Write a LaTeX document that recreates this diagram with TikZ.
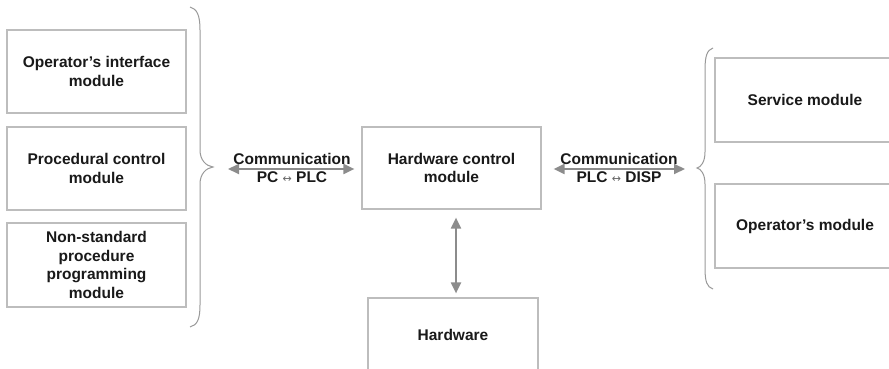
\documentclass[tikz,border=0pt]{standalone}
\usepackage{fontspec}
\setmainfont{Liberation Sans}
\newfontfamily\symfont{DejaVu Sans}
\usetikzlibrary{arrows.meta}
\definecolor{boxgray}{HTML}{BDBDBD}
\definecolor{arrgray}{HTML}{8C8C8C}
\definecolor{bracegray}{HTML}{999999}
\tikzset{
  modbox/.style={draw=boxgray, line width=1.2pt, fill=white, align=center,
    font=\fontsize{15.5}{18.5}\selectfont\bfseries, text=black!90, inner sep=0pt},
  biarrow/.style={draw=arrgray, line width=2pt,
    {Triangle[length=11pt,width=10pt]}-{Triangle[length=11pt,width=10pt]}},
  bracestyle/.style={draw=bracegray, line width=1pt},
  commlabel/.style={font=\fontsize{15.5}{18.5}\selectfont\bfseries, text=black!90, inner sep=0pt}
}
\newcommand{\lrarr}{{\symfont\mdseries\fontsize{11}{11}\selectfont\textcolor{black!60}{↔}}}
\begin{document}
\begin{tikzpicture}[x=1pt,y=-1pt]
\useasboundingbox (0,0) rectangle (889,369);
\clip (0,0) rectangle (889,369);
% left boxes
\node[modbox, minimum width=179pt, minimum height=83pt] (opif) at (96.5,71.5) {Operator's interface\\module};
\node[modbox, minimum width=179pt, minimum height=83pt] (proc) at (96.5,168.5) {Procedural control\\module};
\node[modbox, minimum width=179pt, minimum height=84pt] (nonstd) at (96.5,265) {Non-standard\\procedure\\programming\\module};
% center
\node[modbox, minimum width=179pt, minimum height=82pt] (hwc) at (451.5,168) {Hardware control\\module};
\node[modbox, minimum width=170pt, minimum height=74pt] (hw) at (453,335) {Hardware};
% right boxes
\node[modbox, minimum width=180pt, minimum height=84pt] (serv) at (805,100) {Service module};
\node[modbox, minimum width=180pt, minimum height=84pt] (oper) at (805,226) {Operator's module};
% braces
\draw[bracestyle] (190,7) .. controls (197,9) and (200,15) .. (200,30) -- (200,150)
  .. controls (200,160) and (206,166) .. (213,167)
  .. controls (206,168) and (200,174) .. (200,184) -- (200,305)
  .. controls (200,320) and (197,325) .. (190,327);
\draw[bracestyle] (713,48) .. controls (707,50) and (705,56) .. (705,70) -- (705,152)
  .. controls (705,162) and (701,167) .. (697,168)
  .. controls (701,169) and (705,174) .. (705,184) -- (705,268)
  .. controls (705,282) and (707,287) .. (713,289);
\coordinate (lbt) at (213,169);
\coordinate (rbt) at (697,169);
% arrows
\draw[biarrow, shorten <=15pt, shorten >=7pt] (lbt) -- (hwc.west |- lbt);
\draw[biarrow, shorten <=12pt, shorten >=12pt] (hwc.east |- rbt) -- (rbt);
\coordinate (vtop) at (456,209);
\coordinate (vbot) at (456,298);
\draw[biarrow, shorten <=8pt, shorten >=4pt] (hwc.south -| vtop) -- (hw.north -| vbot);
% labels
\node[commlabel] (c1) at (292,159) {Communication};
\node[commlabel] (c1b) at (292,177.5) {PC \lrarr\ PLC};
\node[commlabel] (c2) at (619,159) {Communication};
\node[commlabel] (c2b) at (619,177.5) {PLC \lrarr\ DISP};
\end{tikzpicture}
\end{document}
